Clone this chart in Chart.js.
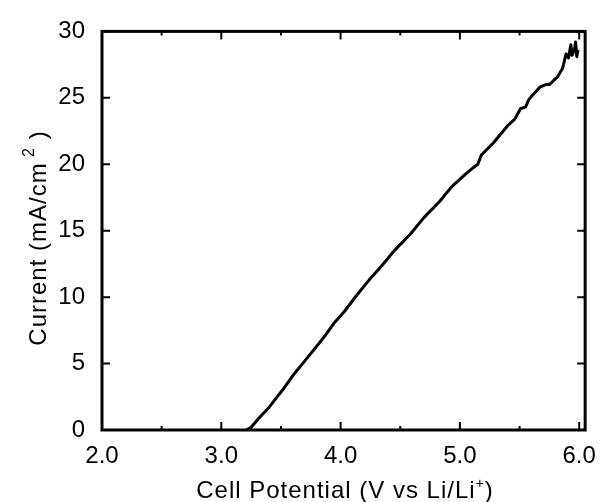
<!DOCTYPE html>
<html>
<head>
<meta charset="utf-8">
<script src="https://cdn.jsdelivr.net/npm/chart.js@4.4.1/dist/chart.umd.min.js"></script>
<style>
  html, body { margin: 0; padding: 0; background: #fff; }
  #wrap { width: 608px; height: 502px; }
</style>
</head>
<body>
<div id="wrap"><canvas id="ivChart" width="608" height="502"></canvas></div>
<script>
// cell potential (V vs Li/Li+) and current density (mA/cm2)
const potential = [3.21, 3.25, 3.32, 3.40, 3.46, 3.53, 3.60, 3.70, 3.80, 3.87, 3.95, 4.03, 4.14, 4.24, 4.34,
    4.45, 4.58, 4.70, 4.83, 4.93, 5.04, 5.12, 5.15, 5.18, 5.28, 5.40, 5.46, 5.51, 5.55, 5.58, 5.62, 5.67,
    5.72, 5.75, 5.82, 5.86, 5.89, 5.91, 5.93, 5.94, 5.96, 5.97, 5.98, 5.99];
const current = [0.0, 0.2, 0.94, 1.7, 2.4, 3.2, 4.1, 5.2, 6.3, 7.1, 8.1, 8.9, 10.2, 11.3, 12.3,
    13.5, 14.7, 16.0, 17.2, 18.3, 19.2, 19.8, 20.0, 20.7, 21.6, 22.9, 23.4, 24.2, 24.3, 24.9, 25.3, 25.8,
    26.0, 26.0, 26.6, 27.2, 28.3, 28.0, 29.0, 28.2, 28.6, 29.2, 28.1, 28.6];

const xTickValues = [2, 3, 4, 5, 6];
const xMinorTicks = [2.5, 3.5, 4.5, 5.5];
const yTickValues = [0, 5, 10, 15, 20, 25, 30];

const FONT = '"Liberation Sans", Arial, sans-serif';

// box around the plot, inward ticks on all four sides, axis titles with superscripts
const framePlugin = {
    id: 'frame',
    afterDraw(chart) {
        const { ctx, chartArea: a, scales } = chart;
        const xs = scales.x, ys = scales.y;
        ctx.save();
        ctx.strokeStyle = '#000';

        ctx.lineWidth = 2;
        ctx.beginPath();
        xTickValues.forEach(v => {
            const px = xs.getPixelForValue(v);
            ctx.moveTo(px, a.bottom); ctx.lineTo(px, a.bottom - 8);
            ctx.moveTo(px, a.top); ctx.lineTo(px, a.top + 8);
        });
        xMinorTicks.forEach(v => {
            const px = xs.getPixelForValue(v);
            ctx.moveTo(px, a.bottom); ctx.lineTo(px, a.bottom - 4);
            ctx.moveTo(px, a.top); ctx.lineTo(px, a.top + 4);
        });
        yTickValues.forEach(v => {
            const py = ys.getPixelForValue(v);
            ctx.moveTo(a.left, py); ctx.lineTo(a.left + 8, py);
            ctx.moveTo(a.right, py); ctx.lineTo(a.right - 8, py);
        });
        ctx.stroke();

        ctx.lineWidth = 3;
        ctx.strokeRect(a.left, a.top, a.right - a.left, a.bottom - a.top);

        ctx.fillStyle = '#000';
        ctx.textBaseline = 'alphabetic';
        if ('letterSpacing' in ctx) ctx.letterSpacing = '1px';

        // x title
        const xMain = 'Cell Potential (V vs Li/Li';
        ctx.font = '24px ' + FONT;
        const w1 = ctx.measureText(xMain).width;
        const w3 = ctx.measureText(')').width;
        ctx.font = '14px ' + FONT;
        const w2 = ctx.measureText('+').width;
        let x = 345 - (w1 + w2 + w3) / 2;
        const yb = 498;
        ctx.textAlign = 'left';
        ctx.font = '24px ' + FONT;
        ctx.fillText(xMain, x, yb);
        x += w1;
        ctx.font = '14px ' + FONT;
        ctx.fillText('+', x, yb - 10);
        x += w2;
        ctx.font = '24px ' + FONT;
        ctx.fillText(')', x, yb);

        // y title, rotated
        ctx.translate(46, 238);
        ctx.rotate(-Math.PI / 2);
        const yMain = 'Current (mA/cm';
        ctx.font = '24px ' + FONT;
        const v1 = ctx.measureText(yMain).width;
        const v3 = ctx.measureText(' )').width;
        ctx.font = '16px ' + FONT;
        const v2 = ctx.measureText(' 2').width;
        let s = -(v1 + v2 + v3) / 2;
        ctx.font = '24px ' + FONT;
        ctx.fillText(yMain, s, 0);
        s += v1;
        ctx.font = '16px ' + FONT;
        ctx.fillText(' 2', s, -12);
        s += v2;
        ctx.font = '24px ' + FONT;
        ctx.fillText(' )', s, 0);

        ctx.restore();
    }
};

const points = potential.map((v, i) => ({ x: v, y: current[i] }));

new Chart(document.getElementById('ivChart').getContext('2d'), {
    type: 'line',
    data: {
        datasets: [{
            data: points,
            borderColor: '#000',
            borderWidth: 3,
            borderJoinStyle: 'round',
            pointRadius: 0,
            tension: 0,
            fill: false
        }]
    },
    options: {
        responsive: false,
        animation: false,
        layout: { padding: { top: 17, right: 11, left: 0, bottom: 0 } },
        plugins: {
            legend: { display: false },
            tooltip: { enabled: false }
        },
        scales: {
            x: {
                type: 'linear',
                min: 2,
                max: 6.05,
                grid: { display: false, drawTicks: false },
                border: { display: false },
                afterBuildTicks: scale => { scale.ticks = xTickValues.map(v => ({ value: v })); },
                afterFit: scale => { scale.height = 72; },
                ticks: {
                    color: '#000',
                    padding: 12,
                    maxRotation: 0,
                    font: { family: FONT, size: 24 },
                    callback: v => Number(v).toFixed(1)
                }
            },
            y: {
                min: 0,
                max: 30,
                grid: { display: false, drawTicks: false },
                border: { display: false },
                afterBuildTicks: scale => { scale.ticks = yTickValues.map(v => ({ value: v })); },
                afterFit: scale => { scale.width = 102; },
                ticks: {
                    color: '#000',
                    padding: 17,
                    font: { family: FONT, size: 24 }
                }
            }
        }
    },
    plugins: [framePlugin]
});
</script>
</body>
</html>
